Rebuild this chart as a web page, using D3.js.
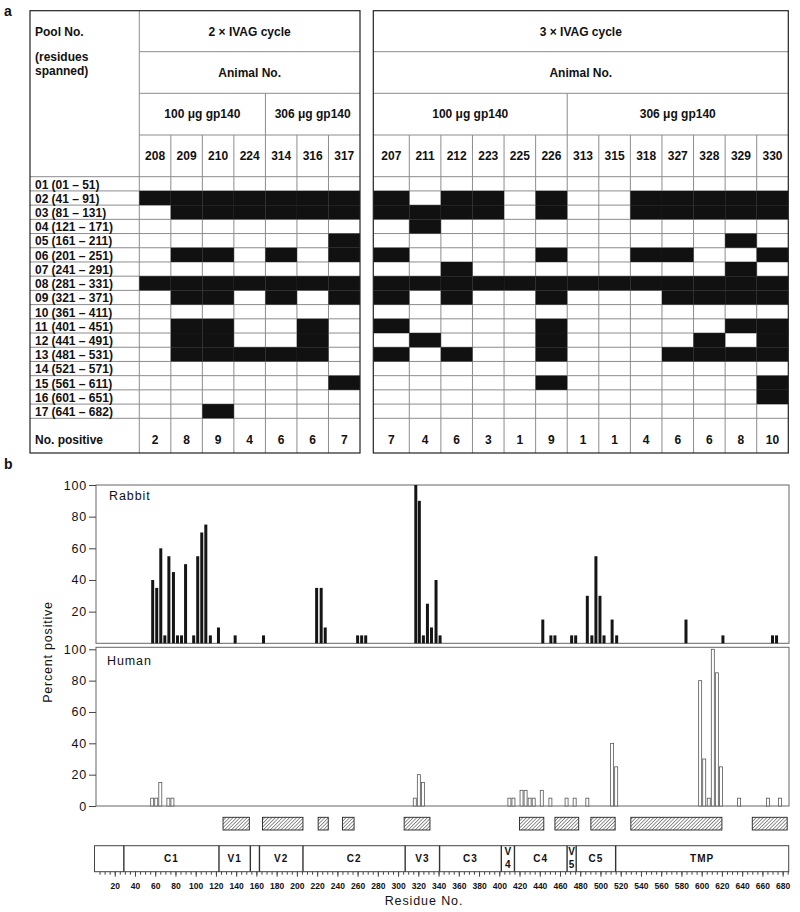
<!DOCTYPE html>
<html><head><meta charset="utf-8">
<script src="https://cdn.jsdelivr.net/npm/d3@7"></script>
<style>
body{margin:0;background:#fff}
svg text{font-family:"Liberation Sans",Arial,Helvetica,sans-serif;fill:#111}
</style></head>
<body><svg id="c" width="800" height="912"></svg>
<script>
// ---------------- DATA ----------------
const poolIds = ["01","02","03","04","05","06","07","08","09","10","11","12","13","14","15","16","17"];
const poolRanges = ["01 – 51","41 – 91","81 – 131","121 – 171","161 – 211","201 – 251","241 – 291","281 – 331","321 – 371","361 – 411","401 – 451","441 – 491","481 – 531","521 – 571","561 – 611","601 – 651","641 – 682"];

const animals2x = ["208","209","210","224","314","316","317"];
const positives2x = [[2,8],[2,3,6,8,9,11,12,13],[2,3,6,8,9,11,12,13,17],[2,3,8,13],[2,3,6,8,9,13],[2,3,8,11,12,13],[2,3,5,6,8,9,15]];
const noPositive2x = [2,8,9,4,6,6,7];

const animals3x = ["207","211","212","223","225","226","313","315","318","327","328","329","330"];
const positives3x = [[2,3,6,8,9,11,13],[3,4,8,12],[2,3,7,8,9,13],[2,3,8],[8],[2,3,6,8,9,11,12,13,15],[8],[8],[2,3,6,8],[2,3,6,8,9,13],[2,3,8,9,12,13],[2,3,5,7,8,9,11,13],[2,3,6,8,9,11,12,13,15,16]];
const noPositive3x = [7,4,6,3,1,9,1,1,4,6,6,8,10];

const rabbitResidue = [57.5,61.5,65.5,69.5,73.5,78,82,86,90,98,102,106,110,114.5,122.5,139,167,219.5,224,228,260,264,268,317.5,321,325,329,333,337.5,341.5,443,451,455,471.5,475.5,487,491.5,495.5,499.5,503.5,511.5,516,584.5,621,670,674];
const rabbitPercent = [40,35,60,5,55,45,5,5,50,5,55,70,75,5,10,5,5,35,35,10,5,5,5,100,90,5,25,10,40,5,15,5,5,5,5,30,5,55,30,5,15,5,15,5,5,5];

const humanResidue = [57,61,65,73,77,316.5,320.5,324.5,410,414,422,426,430,434,442,450.5,466.5,474.5,487,511.5,515.5,598.5,602.5,607,611,615,619,637,665.5,677.5];
const humanPercent = [5,5,15,5,5,5,20,15,5,5,10,10,5,5,10,5,5,5,5,40,25,80,30,5,100,85,25,5,5,5];

const yTicksRabbit = [20,40,60,80,100];
const yTicksHuman = [0,20,40,60,80,100];

const domainNames = ["","C1","V1","","V2","C2","V3","C3","V4","C4","V5","C5","TMP"];
const domainStarts = [0,29,123,154,163,206,307,341,402,415,467,476,515];
const domainEnd = 686;

const hatchStart = [127,166,221,245,306,420,455,490.5,530,650];
const hatchEnd   = [153,206,231,256.5,331.5,444,478.5,514.5,620,684.5];

const residueTicks = d3.range(20, 681, 20);

// ---------------- DRAW ----------------
const svg = d3.select("#c");
const GRAY = "#8c8c8c", DARK = "#222";

svg.append("text").attr("x",4).attr("y",16).attr("font-size",14).attr("font-weight","bold").text("a");
svg.append("text").attr("x",4).attr("y",469).attr("font-size",14).attr("font-weight","bold").text("b");

const rowY = d3.scaleBand().domain(poolIds).range([176.7, 418.3]);
const T = {top:10.7, h1:51.7, h2:93.3, h3:135, h4:176.7, bottom:453};

function ln(g,x1,y1,x2,y2,c,w){
  g.append("line").attr("x1",x1).attr("y1",y1).attr("x2",x2).attr("y2",y2)
   .attr("stroke",c).attr("stroke-width",w||1);
}

function drawTable(o){
  const g = svg.append("g");
  const n = o.animals.length;
  const cx = o.col;
  const dataLeft = cx(0), right = cx(n);
  ln(g,dataLeft,T.h1,right,T.h1,GRAY);
  ln(g,dataLeft,T.h2,right,T.h2,GRAY);
  ln(g,dataLeft,T.h3,right,T.h3,GRAY);
  ln(g,o.left,T.h4,right,T.h4,GRAY);
  poolIds.forEach(id => { const y = rowY(id)+rowY.bandwidth(); ln(g,o.left,y,right,y,GRAY); });
  for(let i=1;i<n;i++) ln(g,cx(i),T.h3,cx(i),T.bottom,GRAY);
  ln(g,cx(o.split),T.h2,cx(o.split),T.h3,GRAY);
  if(o.labels) ln(g,dataLeft,T.top,dataLeft,T.bottom,GRAY);
  // black cells
  o.positives.forEach((list,j) => {
    list.forEach(p => {
      const id = poolIds[p-1];
      g.append("rect").attr("x",cx(j)).attr("y",rowY(id))
        .attr("width",cx(j+1)-cx(j)).attr("height",rowY.bandwidth()).attr("fill","#111");
    });
  });
  g.append("rect").attr("x",o.left).attr("y",T.top).attr("width",right-o.left).attr("height",T.bottom-T.top)
    .attr("fill","none").attr("stroke",DARK).attr("stroke-width",1.2);
  const t = (x,y,s,anchor) => g.append("text").attr("x",x).attr("y",y).attr("dy","0.36em")
    .attr("font-size",12).attr("font-weight","bold").attr("text-anchor",anchor||"middle").text(s);
  t((dataLeft+right)/2,(T.top+T.h1)/2,o.title);
  t((dataLeft+right)/2,(T.h1+T.h2)/2,"Animal No.");
  t((dataLeft+cx(o.split))/2,(T.h2+T.h3)/2,"100 μg gp140");
  t((cx(o.split)+right)/2,(T.h2+T.h3)/2,"306 μg gp140");
  o.animals.forEach((a,j)=> t((cx(j)+cx(j+1))/2,(T.h3+T.h4)/2,a));
  o.counts.forEach((c,j)=> t((cx(j)+cx(j+1))/2,440,String(c)));
  if(o.labels){
    t(o.left+5,31.5,"Pool No.","start");
    t(o.left+5,56.5,"(residues","start");
    t(o.left+5,70.5,"spanned)","start");
    poolIds.forEach((id,i)=>{
      t(o.left+5,rowY(id)+rowY.bandwidth()/2+0.5,id,"start");
      t(o.left+21.5,rowY(id)+rowY.bandwidth()/2+0.5,"("+poolRanges[i]+")","start");
    });
    t(o.left+5,440,"No. positive","start");
  }
}

drawTable({left:30, col:d3.scaleLinear().domain([0,7]).range([139.3,360]), animals:animals2x,
  positives:positives2x, counts:noPositive2x, title:"2 × IVAG cycle", split:4, labels:true});
drawTable({left:373.3, col:d3.scaleLinear().domain([0,1,13]).range([373.3,409.3,788.3]), animals:animals3x,
  positives:positives3x, counts:noPositive3x, title:"3 × IVAG cycle", split:6, labels:false});

// ---------- part b ----------
const x = d3.scaleLinear().domain([0,686]).range([94.5,788.7]);
const yR = d3.scaleLinear().domain([0,100]).range([643.3,485]);
const yH = d3.scaleLinear().domain([0,100]).range([806,649.3]);
const boxL = 96, boxR = 789;
const BOX = "#666";

const gb = svg.append("g");
gb.append("rect").attr("x",boxL).attr("y",485).attr("width",boxR-boxL).attr("height",643.3-485)
  .attr("fill","none").attr("stroke",BOX);
gb.append("rect").attr("x",boxL).attr("y",647.3).attr("width",boxR-boxL).attr("height",806-647.3)
  .attr("fill","none").attr("stroke",BOX);

const bw = 3;
gb.selectAll(".rb").data(rabbitResidue).join("rect")
  .attr("x",(d)=>x(d)-bw/2).attr("width",bw)
  .attr("y",(d,i)=>yR(rabbitPercent[i])).attr("height",(d,i)=>yR(0)-yR(rabbitPercent[i]))
  .attr("fill","#151515");
gb.selectAll(".hb").data(humanResidue).join("rect")
  .attr("x",(d)=>x(d)-bw/2).attr("width",bw)
  .attr("y",(d,i)=>yH(humanPercent[i])).attr("height",(d,i)=>yH(0)-yH(humanPercent[i]))
  .attr("fill","#fff").attr("stroke","#555").attr("stroke-width",0.8);

function styleAxis(sel){
  sel.select(".domain").remove();
  sel.selectAll(".tick line").attr("stroke","#444");
  sel.selectAll("text").attr("font-size",12.5).attr("letter-spacing",0.8).attr("fill","#222")
    .style("font-family",'"Liberation Sans",Arial,sans-serif');
}
const axR = gb.append("g").attr("transform",`translate(${boxL},0)`)
  .call(d3.axisLeft(yR).tickValues(yTicksRabbit).tickSize(7).tickPadding(2));
styleAxis(axR);
const axH = gb.append("g").attr("transform",`translate(${boxL},0)`)
  .call(d3.axisLeft(yH).tickValues(yTicksHuman).tickSize(7).tickPadding(2));
styleAxis(axH);

gb.append("text").attr("x",109).attr("y",500).attr("font-size",12.5).attr("letter-spacing",0.9).attr("fill","#222").text("Rabbit");
gb.append("text").attr("x",107).attr("y",665).attr("font-size",12.5).attr("letter-spacing",0.9).attr("fill","#222").text("Human");
gb.append("text").attr("transform","translate(52,652) rotate(-90)").attr("text-anchor","middle")
  .attr("font-size",12.5).attr("letter-spacing",0.8).attr("fill","#222").text("Percent positive");

// hatched boxes
const defs = svg.append("defs");
const pat = defs.append("pattern").attr("id","hatch").attr("patternUnits","userSpaceOnUse")
  .attr("width",2.5).attr("height",2.5).attr("patternTransform","rotate(45)");
pat.append("rect").attr("width",2.5).attr("height",2.5).attr("fill","#fff");
pat.append("line").attr("x1",0).attr("y1",0).attr("x2",0).attr("y2",2.5).attr("stroke","#222").attr("stroke-width",1);
gb.selectAll(".hatch").data(hatchStart).join("rect")
  .attr("x",d=>x(d)).attr("width",(d,i)=>x(hatchEnd[i])-x(d))
  .attr("y",817.3).attr("height",12.7)
  .attr("fill","url(#hatch)").attr("stroke","#222").attr("stroke-width",0.9);

// domain bar
const dTop = 845.7, dBot = 871.7;
gb.append("rect").attr("x",x(0)).attr("y",dTop).attr("width",x(domainEnd)-x(0)).attr("height",dBot-dTop)
  .attr("fill","#fff").attr("stroke","#444").attr("stroke-width",1);
domainStarts.forEach((s,i)=>{
  if(i>0) ln(gb,x(s),dTop,x(s),dBot,"#333",1.4);
  const e = i<domainStarts.length-1 ? domainStarts[i+1] : domainEnd;
  const name = domainNames[i];
  const cxm = (x(s)+x(e))/2;
  if(!name) return;
  if(e-s < 15){
    gb.append("text").attr("x",cxm).attr("y",dTop+9.5).attr("text-anchor","middle").attr("font-size",10)
      .attr("font-weight","bold").attr("fill","#222").text(name[0]);
    gb.append("text").attr("x",cxm).attr("y",dTop+22).attr("text-anchor","middle").attr("font-size",10)
      .attr("font-weight","bold").attr("fill","#222").text(name[1]);
  } else {
    gb.append("text").attr("x",cxm).attr("y",(dTop+dBot)/2).attr("dy","0.36em").attr("text-anchor","middle")
      .attr("font-size",10).attr("font-weight","bold").attr("letter-spacing",1).attr("fill","#222").text(name);
  }
});
// residue axis
const axMinor = gb.append("g").attr("transform",`translate(0,${dBot})`)
  .call(d3.axisBottom(x).tickValues(d3.range(5,686,5)).tickSize(3).tickFormat(""));
axMinor.select(".domain").remove();
axMinor.selectAll(".tick line").attr("stroke","#444");
const axMajor = gb.append("g").attr("transform",`translate(0,${dBot})`)
  .call(d3.axisBottom(x).tickValues(residueTicks).tickSize(5).tickPadding(6));
axMajor.select(".domain").remove();
axMajor.selectAll(".tick line").attr("stroke","#444");
axMajor.selectAll("text").attr("font-size",8.5).attr("font-weight","bold").attr("fill","#333")
  .style("font-family",'"Liberation Sans",Arial,sans-serif');

gb.append("text").attr("x",424).attr("y",905).attr("text-anchor","middle").attr("font-size",12.5)
  .attr("letter-spacing",0.9).attr("fill","#222").text("Residue No.");
</script>
</body></html>
